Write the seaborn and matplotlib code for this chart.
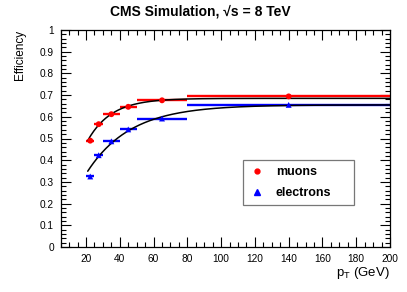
import numpy as np
import pandas as pd
import matplotlib
matplotlib.use("Agg")
import matplotlib.pyplot as plt
from matplotlib.ticker import MultipleLocator
from matplotlib.lines import Line2D
import seaborn as sns

# bins in pT (GeV)
bin_lo = [20, 25, 30, 40, 50, 80]
bin_hi = [25, 30, 40, 50, 80, 200]

# efficiencies
mu_eff = [0.490, 0.566, 0.612, 0.646, 0.676, 0.694]
mu_err = [0.007, 0.006, 0.005, 0.004, 0.004, 0.003]
el_eff = [0.325, 0.423, 0.487, 0.542, 0.592, 0.655]
el_err = [0.008, 0.007, 0.005, 0.004, 0.004, 0.003]

# turn-on fit parameters: plateau, x0, width
mu_fit = [0.685, 3.25, 14.1]
el_fit = [0.655, 1.5, 25.6]
fit_range = [21, 200]

sns.set_style("ticks")
plt.rcParams["font.family"] = ["Liberation Sans", "DejaVu Sans"]
plt.rcParams["mathtext.fontset"] = "custom"
plt.rcParams["mathtext.rm"] = "Liberation Sans"
plt.rcParams["mathtext.it"] = "Liberation Sans"
for k in ["text.color", "axes.labelcolor", "xtick.color", "ytick.color",
          "xtick.labelcolor", "ytick.labelcolor"]:
    plt.rcParams[k] = "black"

x_c = [(a + b) / 2 for a, b in zip(bin_lo, bin_hi)]
x_w = [(b - a) / 2 for a, b in zip(bin_lo, bin_hi)]
df = pd.DataFrame({
    "pt": x_c * 2,
    "xerr": x_w * 2,
    "eff": mu_eff + el_eff,
    "err": mu_err + el_err,
    "lepton": ["muons"] * 6 + ["electrons"] * 6,
})

xs = np.linspace(fit_range[0], fit_range[1], 300)
fits = []
for name, (p, x0, tau) in [("muons", mu_fit), ("electrons", el_fit)]:
    fits.append(pd.DataFrame({"pt": xs, "eff": p * (1 - np.exp(-(xs - x0) / tau)), "lepton": name}))
fit_df = pd.concat(fits)

colors = {"muons": "#ff0000", "electrons": "#0000ff"}
markers = {"muons": "o", "electrons": "^"}

fig = plt.figure(figsize=(4.07, 2.92), dpi=100)
ax = fig.add_axes([60.7 / 407, 1 - 247 / 292, 329.3 / 407, 217 / 292])

for name, g in df.groupby("lepton"):
    ax.errorbar(g["pt"], g["eff"], xerr=g["xerr"], yerr=g["err"], fmt="none",
                ecolor=colors[name], elinewidth=1.7, capsize=0, zorder=2)

sns.lineplot(data=fit_df, x="pt", y="eff", units="lepton", estimator=None,
             color="black", linewidth=1.1, ax=ax, zorder=3, legend=False)
sns.scatterplot(data=df, x="pt", y="eff", hue="lepton", style="lepton",
                palette=colors, markers=markers, s=18, edgecolor="none",
                ax=ax, zorder=4, legend=False)

ax.set_xlim(5, 200)
ax.set_ylim(0, 1)
ax.xaxis.set_major_locator(MultipleLocator(20))
ax.xaxis.set_minor_locator(MultipleLocator(5))
ax.yaxis.set_major_locator(MultipleLocator(0.1))
ax.yaxis.set_minor_locator(MultipleLocator(0.02))
ax.set_yticks(np.arange(0, 1.01, 0.1))
ax.set_yticklabels(["0"] + [f"{v:.1f}" for v in np.arange(0.1, 0.95, 0.1)] + ["1"])
ax.tick_params(which="both", direction="in", top=True, right=True, labelsize=7.3,
               color="black", labelcolor="black", width=0.8, pad=5)
ax.tick_params(which="major", length=7)
ax.tick_params(which="minor", length=3.5)
for s in ax.spines.values():
    s.set_linewidth(0.9)
    s.set_color("black")

ax.set_xlabel(r"$\mathregular{p_{T}}$ (GeV)", fontsize=9.5, loc="right", color="black")
ax.xaxis.set_label_coords(1.0, -0.085)
ax.set_ylabel("Efficiency", fontsize=8.5, loc="top", color="black")
ax.yaxis.set_label_coords(-0.105, 1.0)

fig.text(200 / 407, 1 - 12 / 292, "CMS Simulation, \u221as = 8 TeV",
         ha="center", va="center", fontsize=10, fontweight="bold", color="black")

handles = [
    Line2D([], [], marker="o", color="#ff0000", linestyle="none", markersize=3.5),
    Line2D([], [], marker="^", color="#0000ff", linestyle="none", markersize=4),
]
leg = ax.legend(handles, ["muons", "electrons"], loc="upper left",
                bbox_to_anchor=(0.554, 0.203, 0.337, 0.198), mode="expand",
                frameon=True, fancybox=False, framealpha=1, edgecolor="#777777",
                prop={"weight": "bold", "size": 9}, handlelength=1.2,
                handletextpad=0.9, labelspacing=0.7, borderpad=0.5, borderaxespad=0)
leg.get_frame().set_linewidth(0.9)
for t in leg.get_texts():
    t.set_color("black")

fig.savefig("out.png", dpi=100)
